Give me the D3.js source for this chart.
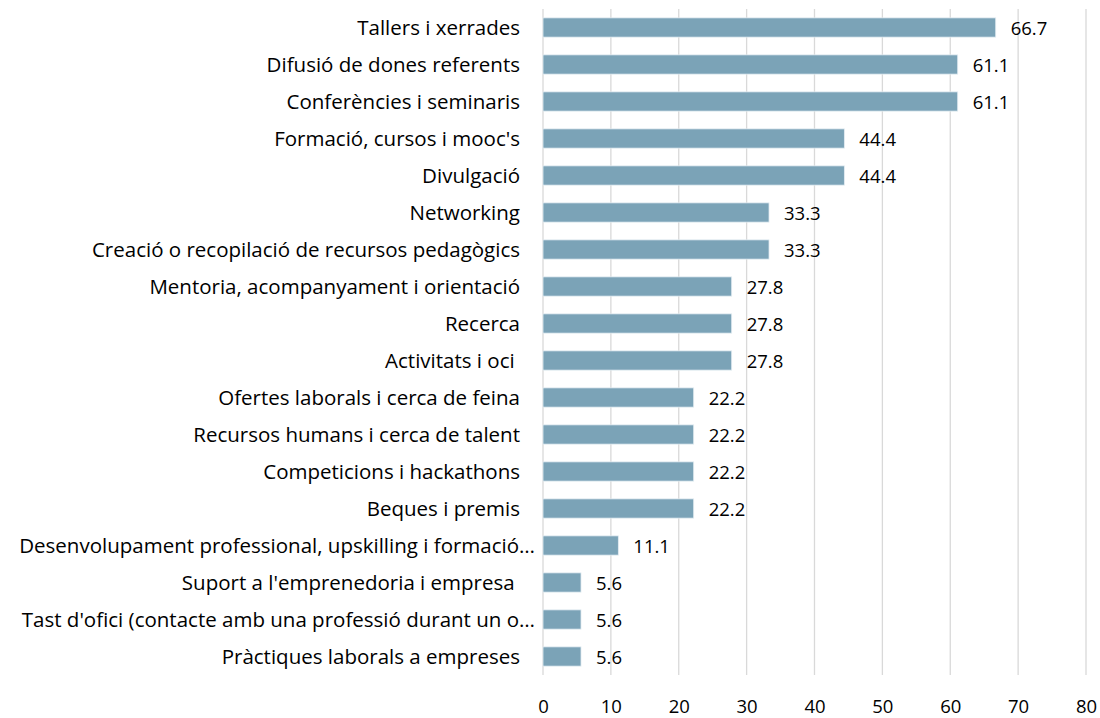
<!DOCTYPE html>
<html>
<head>
<meta charset="utf-8">
<script src="https://cdn.jsdelivr.net/npm/d3@7"></script>
<style>
  body { margin: 0; background: #fff; }
  svg text { font-family: "Open Sans", "Noto Sans", sans-serif; fill: #000; }
</style>
</head>
<body>
<div id="chart"></div>
<script>
var categories = [
  "Tallers i xerrades",
  "Difusió de dones referents",
  "Conferències i seminaris",
  "Formació, cursos i mooc's",
  "Divulgació",
  "Networking",
  "Creació o recopilació de recursos pedagògics",
  "Mentoria, acompanyament i orientació",
  "Recerca",
  "Activitats i oci ",
  "Ofertes laborals i cerca de feina",
  "Recursos humans i cerca de talent",
  "Competicions i hackathons",
  "Beques i premis",
  "Desenvolupament professional, upskilling i formació…",
  "Suport a l'emprenedoria i empresa ",
  "Tast d'ofici (contacte amb una professió durant un o…",
  "Pràctiques laborals a empreses"
];
var values = [66.7, 61.1, 61.1, 44.4, 44.4, 33.3, 33.3, 27.8, 27.8, 27.8,
              22.2, 22.2, 22.2, 22.2, 11.1, 5.6, 5.6, 5.6];
var xTicks = [0, 10, 20, 30, 40, 50, 60, 70, 80];

var width = 1100, height = 718;
var margin = {top: 9, right: 14, bottom: 43, left: 543};

var svg = d3.select("#chart").append("svg")
    .attr("width", width)
    .attr("height", height);

var x = d3.scaleLinear().domain([0, 80]).range([margin.left, width - margin.right]);
var y = d3.scaleBand().domain(categories)
    .range([margin.top, height - margin.bottom])
    .paddingInner(0.48).paddingOuter(0.24);

// gridlines
svg.append("g")
    .selectAll("line")
    .data(xTicks)
    .enter().append("line")
    .attr("x1", function(d) { return x(d); })
    .attr("x2", function(d) { return x(d); })
    .attr("y1", margin.top)
    .attr("y2", height - margin.bottom)
    .attr("stroke", "#d9d9d9")
    .attr("stroke-width", 1.3);

// bars
svg.append("g")
    .selectAll("rect")
    .data(values)
    .enter().append("rect")
    .attr("x", x(0))
    .attr("y", function(d, i) { return y(categories[i]); })
    .attr("width", function(d) { return x(d) - x(0); })
    .attr("height", y.bandwidth())
    .attr("fill", "#7ba3b7")
    .attr("stroke", "#e4edf2")
    .attr("stroke-width", 0.8);

// value labels
svg.append("g")
    .selectAll("text")
    .data(values)
    .enter().append("text")
    .attr("x", function(d) { return x(d) + 15; })
    .attr("y", function(d, i) { return y(categories[i]) + y.bandwidth() / 2 + 1; })
    .attr("dy", "0.35em")
    .style("font-size", "18.5px")
    .text(function(d) { return d.toFixed(1); });

// category axis (cut labels sit closer to the bars, as in the source)
var yAxis = d3.axisLeft(y).tickSize(0).tickPadding(23);
var gy = svg.append("g")
    .attr("transform", "translate(" + margin.left + ",0)")
    .call(yAxis);
gy.select(".domain").remove();
gy.selectAll(".tick text")
    .style("font-size", "20.5px")
    .style("white-space", "pre")
    .attr("dy", "0.38em")
    .attr("x", function(d) { return d.slice(-1) == "…" ? -8 : -23; })
    .attr("fill", "#000");

// value axis
var xAxis = d3.axisBottom(x).tickValues(xTicks).tickSize(0).tickPadding(25);
var gx = svg.append("g")
    .attr("transform", "translate(0," + (height - margin.bottom) + ")")
    .call(xAxis);
gx.select(".domain").remove();
gx.selectAll(".tick text")
    .style("font-size", "18.5px")
    .attr("fill", "#000");
</script>
</body>
</html>
